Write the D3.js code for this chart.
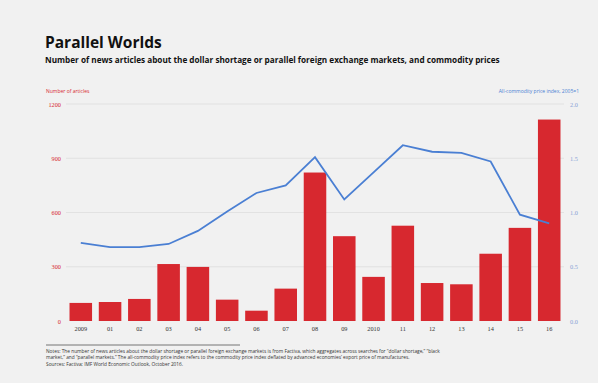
<!DOCTYPE html>
<html>
<head>
<meta charset="utf-8">
<script src="https://cdn.jsdelivr.net/npm/d3@7"></script>
<style>
  body { margin: 0; background: #f1f1f1; }
  svg { display: block; }
</style>
</head>
<body>
<svg width="598" height="383"></svg>
<script>
const years = ['2009','01','02','03','04','05','06','07','08','09','2010','11','12','13','14','15','16'];
const articles = [100, 105, 122, 315, 299, 118, 57, 179, 821, 469, 244, 527, 210, 203, 372, 515, 1114];
const priceIndex = [0.72, 0.68, 0.68, 0.71, 0.83, 1.01, 1.18, 1.25, 1.51, 1.12, 1.37, 1.62, 1.56, 1.55, 1.47, 0.98, 0.90];
const leftTicks = [0, 300, 600, 900, 1200];
const rightTicks = [0, 0.5, 1.0, 1.5, 2.0];

const svg = d3.select('svg');
const width = +svg.attr('width');
const height = +svg.attr('height');
const margin = {left: 66, top: 104, right: 34, bottom: 62};
const innerWidth = width - margin.left - margin.right;
const innerHeight = height - margin.top - margin.bottom;

const red = '#d7282f';
const blue = '#4a7fd3';

svg.append('rect').attr('width', width).attr('height', height).attr('fill', '#f1f1f1');

// titles
svg.append('text').attr('x', 45).attr('y', 48)
  .attr('font-family', 'Open Sans, sans-serif').attr('font-size', '15.5px').attr('font-weight', 'bold')
  .attr('fill', '#111').text('Parallel Worlds');
svg.append('text').attr('x', 45).attr('y', 63)
  .attr('font-family', 'Open Sans, sans-serif').attr('font-size', '8.2px').attr('font-weight', 'bold')
  .attr('fill', '#111')
  .text('Number of news articles about the dollar shortage or parallel foreign exchange markets, and commodity prices');

svg.append('text').attr('x', 46).attr('y', 93)
  .attr('font-family', 'Open Sans, sans-serif').attr('font-size', '5px')
  .attr('fill', red).text('Number of articles');
svg.append('text').attr('x', 579).attr('y', 93).attr('text-anchor', 'end')
  .attr('font-family', 'Open Sans, sans-serif').attr('font-size', '5px')
  .attr('fill', blue).text('All-commodity price index, 2005=1');

const g = svg.append('g').attr('transform', `translate(${margin.left}, ${margin.top})`);

const xScale = d3.scaleBand().domain(years).range([0, innerWidth]).paddingInner(0.23).paddingOuter(0.12);
const yLeft = d3.scaleLinear().domain([0, 1200]).range([innerHeight, 0]);
const yRight = d3.scaleLinear().domain([0, 2]).range([innerHeight, 0]);

// grid
g.selectAll('.grid').data(leftTicks.slice(1)).enter().append('line')
  .attr('x1', 0).attr('x2', innerWidth)
  .attr('y1', d => yLeft(d)).attr('y2', d => yLeft(d))
  .attr('stroke', '#dedede').attr('stroke-width', 0.8);

// left axis
const yaxis = g.append('g').call(d3.axisLeft(yLeft).tickValues(leftTicks).tickFormat(d3.format('d')).tickSize(0).tickPadding(5));
yaxis.select('.domain').remove();
yaxis.selectAll('text').attr('fill', red).attr('font-family', 'Liberation Serif, serif').attr('font-size', '6.3px');

// right axis
const raxis = g.append('g').attr('transform', `translate(${innerWidth}, 0)`)
  .call(d3.axisRight(yRight).tickValues(rightTicks).tickFormat(d3.format('.1f')).tickSize(0).tickPadding(6));
raxis.select('.domain').remove();
raxis.selectAll('text').attr('fill', '#8aa3d6').attr('font-family', 'Liberation Serif, serif').attr('font-size', '6.3px');

// bars
g.selectAll('rect.bar').data(articles).enter().append('rect')
  .attr('class', 'bar')
  .attr('x', (d, i) => xScale(years[i]))
  .attr('y', d => yLeft(d))
  .attr('width', xScale.bandwidth())
  .attr('height', d => innerHeight - yLeft(d))
  .attr('fill', red);

// x axis
const xaxis = g.append('g').attr('transform', `translate(0, ${innerHeight})`)
  .call(d3.axisBottom(xScale).tickSize(0).tickPadding(6));
xaxis.select('.domain').remove();
xaxis.selectAll('text').attr('fill', '#333').attr('font-family', 'Liberation Serif, serif').attr('font-size', '6.3px');

// line
const line = d3.line()
  .x((d, i) => xScale(years[i]) + xScale.bandwidth() / 2)
  .y(d => yRight(d));
g.append('path').datum(priceIndex)
  .attr('d', line)
  .attr('fill', 'none')
  .attr('stroke', blue)
  .attr('stroke-width', 1.8);

// notes
svg.append('line').attr('x1', 46).attr('x2', 240).attr('y1', 345).attr('y2', 345)
  .attr('stroke', '#555').attr('stroke-width', 0.8);
const notes = [
  'Notes: The number of news articles about the dollar shortage or parallel foreign exchange markets is from Factiva, which aggregates across searches for \u201cdollar shortage,\u201d \u201cblack',
  'market,\u201d and \u201cparallel markets.\u201d The all-commodity price index refers to the commodity price index deflated by advanced economies\u2019 export price of manufactures.',
  'Sources: Factiva; IMF World Economic Outlook, October 2016.'
];
svg.selectAll('text.note').data(notes).enter().append('text')
  .attr('class', 'note')
  .attr('x', 46).attr('y', (d, i) => 353 + i * 6.3)
  .attr('font-family', 'Open Sans, sans-serif').attr('font-size', '4.8px')
  .attr('fill', '#333').text(d => d);
</script>
</body>
</html>
